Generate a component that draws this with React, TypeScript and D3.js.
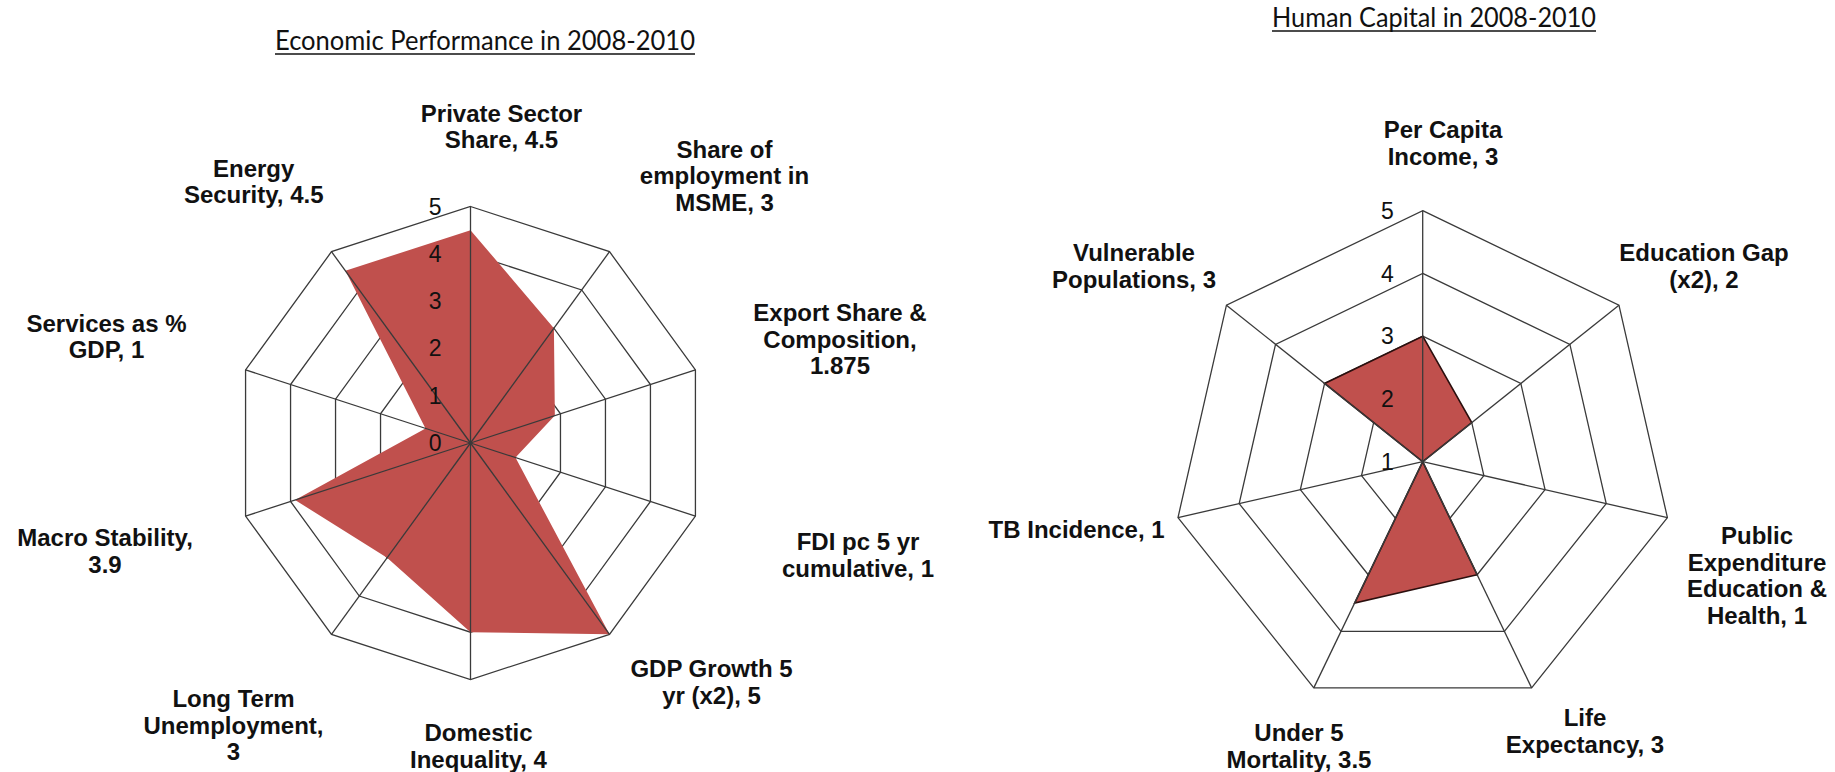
import React from "react";
import * as d3 from "d3";

// ---------- data ----------
const ECON_TITLE = "Economic Performance in 2008-2010";
const ECON_CATEGORIES = [
  ["Private Sector", "Share, 4.5"],
  ["Share of", "employment in", "MSME, 3"],
  ["Export Share &", "Composition,", "1.875"],
  ["FDI pc 5 yr", "cumulative, 1"],
  ["GDP Growth 5", "yr (x2), 5"],
  ["Domestic", "Inequality, 4"],
  ["Long Term", "Unemployment,", "3"],
  ["Macro Stability,", "3.9"],
  ["Services as %", "GDP, 1"],
  ["Energy", "Security, 4.5"],
];
const ECON_VALUES = [4.5, 3, 1.875, 1, 5, 4, 3, 3.9, 1, 4.5];
const ECON_TICKS = [0, 1, 2, 3, 4, 5];

const HUMAN_TITLE = "Human Capital in 2008-2010";
const HUMAN_CATEGORIES = [
  ["Per Capita", "Income, 3"],
  ["Education Gap", "(x2), 2"],
  ["Public", "Expenditure", "Education &", "Health, 1"],
  ["Life", "Expectancy, 3"],
  ["Under 5", "Mortality, 3.5"],
  ["TB Incidence, 1"],
  ["Vulnerable", "Populations, 3"],
];
const HUMAN_VALUES = [3, 2, 1, 3, 3.5, 1, 3];
const HUMAN_TICKS = [1, 2, 3, 4, 5];

// ---------- layout ----------
const W = 1835;
const H = 772;
const FILL = "#C0504D";
const GRID = "#3a3a3a";
const LINE_H = 26.5;

const ECON_LAYOUT = {
  cx: 470.5, cy: 443, r: 236.5,
  titleX: 485, titleY: 50, titleW: 420,
  labelPos: [
    [501.5, 121.5], [724.5, 157.5], [840, 321], [858, 550], [711.5, 677],
    [478.5, 741], [233.5, 707], [105, 546], [106.5, 331.5], [253.7, 176.5],
  ],
  stroke: "none",
};
const HUMAN_LAYOUT = {
  cx: 1422.7, cy: 461.7, r: 251,
  titleX: 1434, titleY: 27, titleW: 324,
  labelPos: [
    [1443, 138], [1704, 261], [1757, 544], [1585, 726], [1299, 741],
    [1076.6, 537.7], [1134, 261],
  ],
  stroke: "#2b0f0e",
};

function Radar({ categories, values, ticks, layout, title }) {
  const { cx, cy, r } = layout;
  const n = categories.length;
  const angle = d3.scaleLinear().domain([0, n]).range([0, 2 * Math.PI]);
  const radius = d3.scaleLinear().domain(d3.extent(ticks)).range([0, r]);
  const idx = d3.range(n);
  const radial = d3
    .lineRadial()
    .angle((d) => angle(d[0]))
    .radius((d) => radius(d[1]))
    .curve(d3.curveLinearClosed);

  const rings = ticks.filter((t) => radius(t) > 0);
  const maxT = ticks[ticks.length - 1];
  const pt = (i, v) => {
    const a = angle(i);
    return [Math.sin(a) * radius(v), -Math.cos(a) * radius(v)];
  };

  return (
    <g>
      <g transform={`translate(${cx},${cy})`}>
        {rings.map((t) => (
          <path
            key={"ring" + t}
            d={radial(idx.map((i) => [i, t]))}
            fill="none"
            stroke={GRID}
            strokeWidth={1.3}
          />
        ))}
        <path
          d={radial(idx.map((i) => [i, values[i]]))}
          fill={FILL}
          stroke={layout.stroke}
          strokeWidth={layout.stroke === "none" ? 0 : 1.6}
          strokeLinejoin="miter"
        />
        {idx.map((i) => {
          const [x, y] = pt(i, maxT);
          return (
            <line
              key={"spoke" + i}
              x1={0}
              y1={0}
              x2={x}
              y2={y}
              stroke={GRID}
              strokeWidth={1.3}
            />
          );
        })}
        {ticks.map((t) => (
          <text
            key={"tick" + t}
            x={-29}
            y={-radius(t)}
            dy="0.35em"
            textAnchor="end"
            fontFamily="'Liberation Sans', Arial, sans-serif"
            fontSize={23}
            fill="#111"
          >
            {t}
          </text>
        ))}
      </g>
      {categories.map((lines, i) => {
        const [x, y] = layout.labelPos[i];
        return (
          <text
            key={"lab" + i}
            x={x}
            y={y}
            textAnchor="middle"
            fontFamily="'Liberation Sans', Arial, sans-serif"
            fontWeight="bold"
            fontSize={24}
            fill="#111"
          >
            {lines.map((ln, j) => (
              <tspan key={j} x={x} y={y + j * LINE_H}>
                {ln}
              </tspan>
            ))}
          </text>
        );
      })}
      <text
        x={layout.titleX}
        y={layout.titleY}
        textAnchor="middle"
        fontFamily="Lato, 'Open Sans', sans-serif"
        fontSize={27}
        textLength={layout.titleW}
        lengthAdjust="spacingAndGlyphs"
        fill="#111"
      >
        {title}
      </text>
      <line
        x1={layout.titleX - layout.titleW / 2}
        x2={layout.titleX + layout.titleW / 2}
        y1={layout.titleY + 4}
        y2={layout.titleY + 4}
        stroke="#111"
        strokeWidth={1.6}
      />
    </g>
  );
}

export default function App() {
  return (
    <svg
      width={W}
      height={H}
      viewBox={`0 0 ${W} ${H}`}
      style={{ position: "absolute", left: 0, top: 0, display: "block", background: "#fff" }}
    >
      <rect x={0} y={0} width={W} height={H} fill="#fff" />
      <Radar
        categories={ECON_CATEGORIES}
        values={ECON_VALUES}
        ticks={ECON_TICKS}
        layout={ECON_LAYOUT}
        title={ECON_TITLE}
      />
      <Radar
        categories={HUMAN_CATEGORIES}
        values={HUMAN_VALUES}
        ticks={HUMAN_TICKS}
        layout={HUMAN_LAYOUT}
        title={HUMAN_TITLE}
      />
    </svg>
  );
}
